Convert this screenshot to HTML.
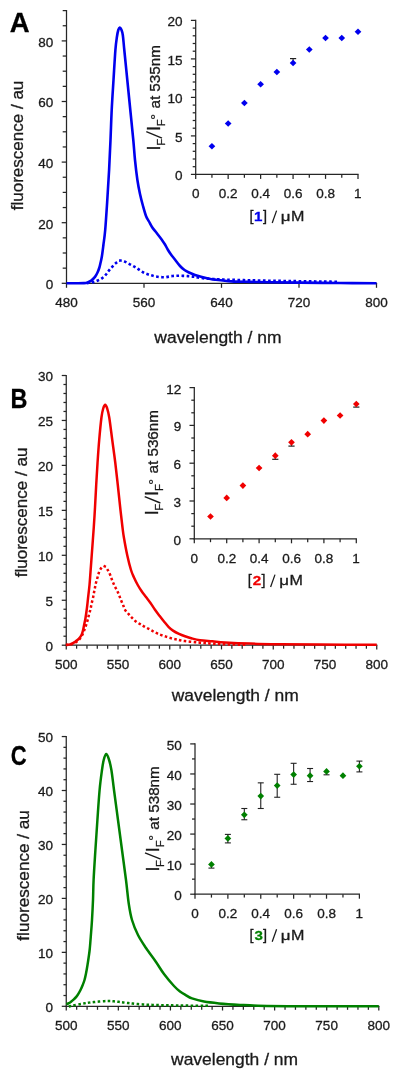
<!DOCTYPE html>
<html><head><meta charset="utf-8"><title>Fluorescence spectra</title>
<style>
html,body{margin:0;padding:0;background:#fff;}
body{width:400px;height:1080px;overflow:hidden;}
svg{display:block;filter:blur(0.3px);font-family:"Liberation Sans",sans-serif;font-kerning:none;}
text{stroke-width:0.3px;}
</style></head>
<body>
<svg width="400" height="1080" viewBox="0 0 400 1080">
<rect width="400" height="1080" fill="#fff"/>
<text transform="translate(9.72,31.85) scale(0.9854,1)" font-size="27.907" font-weight="bold" fill="#000" stroke="#000">A</text>
<line x1="66.5" y1="10" x2="66.5" y2="283.9" stroke="#262626" stroke-width="1.25"/>
<line x1="61.7" y1="283.3" x2="66.5" y2="283.3" stroke="#262626" stroke-width="1.25"/>
<text x="45.82" y="289.1" font-size="13.5" fill="#1a1a1a" stroke="#1a1a1a">0</text>
<line x1="62.7" y1="268.15" x2="66.5" y2="268.15" stroke="#262626" stroke-width="1.25"/>
<line x1="62.7" y1="253" x2="66.5" y2="253" stroke="#262626" stroke-width="1.25"/>
<line x1="62.7" y1="237.85" x2="66.5" y2="237.85" stroke="#262626" stroke-width="1.25"/>
<line x1="61.7" y1="222.7" x2="66.5" y2="222.7" stroke="#262626" stroke-width="1.25"/>
<text x="38.31" y="228.5" font-size="13.5" fill="#1a1a1a" stroke="#1a1a1a">20</text>
<line x1="62.7" y1="207.55" x2="66.5" y2="207.55" stroke="#262626" stroke-width="1.25"/>
<line x1="62.7" y1="192.4" x2="66.5" y2="192.4" stroke="#262626" stroke-width="1.25"/>
<line x1="62.7" y1="177.25" x2="66.5" y2="177.25" stroke="#262626" stroke-width="1.25"/>
<line x1="61.7" y1="162.1" x2="66.5" y2="162.1" stroke="#262626" stroke-width="1.25"/>
<text x="38.31" y="167.9" font-size="13.5" fill="#1a1a1a" stroke="#1a1a1a">40</text>
<line x1="62.7" y1="146.95" x2="66.5" y2="146.95" stroke="#262626" stroke-width="1.25"/>
<line x1="62.7" y1="131.8" x2="66.5" y2="131.8" stroke="#262626" stroke-width="1.25"/>
<line x1="62.7" y1="116.65" x2="66.5" y2="116.65" stroke="#262626" stroke-width="1.25"/>
<line x1="61.7" y1="101.5" x2="66.5" y2="101.5" stroke="#262626" stroke-width="1.25"/>
<text x="38.31" y="107.3" font-size="13.5" fill="#1a1a1a" stroke="#1a1a1a">60</text>
<line x1="62.7" y1="86.35" x2="66.5" y2="86.35" stroke="#262626" stroke-width="1.25"/>
<line x1="62.7" y1="71.2" x2="66.5" y2="71.2" stroke="#262626" stroke-width="1.25"/>
<line x1="62.7" y1="56.05" x2="66.5" y2="56.05" stroke="#262626" stroke-width="1.25"/>
<line x1="61.7" y1="40.9" x2="66.5" y2="40.9" stroke="#262626" stroke-width="1.25"/>
<text x="38.31" y="46.7" font-size="13.5" fill="#1a1a1a" stroke="#1a1a1a">80</text>
<line x1="62.7" y1="25.75" x2="66.5" y2="25.75" stroke="#262626" stroke-width="1.25"/>
<line x1="62.7" y1="10.6" x2="66.5" y2="10.6" stroke="#262626" stroke-width="1.25"/>
<line x1="65.9" y1="283.3" x2="377.1" y2="283.3" stroke="#262626" stroke-width="1.25"/>
<line x1="66.5" y1="283.3" x2="66.5" y2="287.8" stroke="#262626" stroke-width="1.25"/>
<text x="55.35" y="306.8" font-size="13.5" fill="#1a1a1a" stroke="#1a1a1a">480</text>
<line x1="144" y1="283.3" x2="144" y2="287.8" stroke="#262626" stroke-width="1.25"/>
<text x="132.73" y="306.8" font-size="13.5" fill="#1a1a1a" stroke="#1a1a1a">560</text>
<line x1="221.5" y1="283.3" x2="221.5" y2="287.8" stroke="#262626" stroke-width="1.25"/>
<text x="210.16" y="306.8" font-size="13.5" fill="#1a1a1a" stroke="#1a1a1a">640</text>
<line x1="299" y1="283.3" x2="299" y2="287.8" stroke="#262626" stroke-width="1.25"/>
<text x="287.66" y="306.8" font-size="13.5" fill="#1a1a1a" stroke="#1a1a1a">720</text>
<line x1="376.5" y1="283.3" x2="376.5" y2="287.8" stroke="#262626" stroke-width="1.25"/>
<text x="365.21" y="306.8" font-size="13.5" fill="#1a1a1a" stroke="#1a1a1a">800</text>
<text transform="translate(154.33,342.6) scale(1.0400,1)" font-size="16.800" fill="#1a1a1a" stroke="#1a1a1a">wavelength / nm</text>
<text transform="translate(23.4,210.24) rotate(-90) scale(1.0442,1)" font-size="16.300" fill="#1a1a1a" stroke="#1a1a1a">fluorescence / au</text>
<path d="M66.5,283.3 C68.42,283.3 75.08,283.33 78,283.3 C80.92,283.27 82.42,283.25 84,283.1 C85.58,282.95 86.29,282.82 87.5,282.4 C88.71,281.98 90,281.52 91.25,280.6 C92.5,279.68 93.96,278.25 95,276.9 C96.04,275.55 96.77,274.07 97.5,272.5 C98.23,270.93 98.88,269.17 99.4,267.5 C99.92,265.83 100.18,264.38 100.6,262.5 C101.02,260.62 101.43,259.17 101.9,256.25 C102.37,253.33 102.85,249.38 103.4,245 C103.95,240.62 104.55,237.5 105.2,230 C105.85,222.5 106.65,210 107.3,200 C107.95,190 108.57,180 109.1,170 C109.63,160 110.07,150 110.5,140 C110.93,130 111.2,120 111.7,110 C112.2,100 112.88,90 113.5,80 C114.12,70 114.83,57.17 115.4,50 C115.97,42.83 116.42,40.33 116.9,37 C117.38,33.67 117.82,31.58 118.3,30 C118.78,28.42 119.3,27.58 119.8,27.5 C120.3,27.42 120.8,28.25 121.3,29.5 C121.8,30.75 122.3,31.58 122.8,35 C123.3,38.42 123.55,42.5 124.3,50 C125.05,57.5 126.3,70 127.3,80 C128.3,90 129.3,100 130.3,110 C131.3,120 132.52,131.67 133.3,140 C134.08,148.33 134.32,153.33 135,160 C135.68,166.67 136.57,174.33 137.4,180 C138.23,185.67 139.07,189.67 140,194 C140.93,198.33 142,202.33 143,206 C144,209.67 145,213.42 146,216 C147,218.58 148,219.67 149,221.5 C150,223.33 150.92,225.33 152,227 C153.08,228.67 154.33,230 155.5,231.5 C156.67,233 157.92,234.58 159,236 C160.08,237.42 161,238.58 162,240 C163,241.42 164,242.83 165,244.5 C166,246.17 167,248.33 168,250 C169,251.67 169.92,253 171,254.5 C172.08,256 173,257.08 174.5,259 C176,260.92 178.33,264.17 180,266 C181.67,267.83 183,268.92 184.5,270 C186,271.08 187.25,271.67 189,272.5 C190.75,273.33 193,274.28 195,275 C197,275.72 199,276.27 201,276.8 C203,277.33 204.67,277.73 207,278.2 C209.33,278.67 210.92,279.07 215,279.6 C219.08,280.13 225.67,281.02 231.5,281.4 C237.33,281.78 243.58,281.77 250,281.9 C256.42,282.03 261.67,282.08 270,282.2 C278.33,282.32 288.33,282.47 300,282.6 C311.67,282.73 327.25,282.9 340,283 C352.75,283.1 370.42,283.17 376.5,283.2" fill="none" stroke="#0000ee" stroke-width="2.6" stroke-linejoin="round"/>
<path d="M88,283 C88.83,282.87 91.42,282.6 93,282.2 C94.58,281.8 96,281.25 97.5,280.6 C99,279.95 100.65,279.23 102,278.3 C103.35,277.37 104.47,276.25 105.6,275 C106.72,273.75 107.6,272.22 108.75,270.8 C109.9,269.38 111.25,267.83 112.5,266.5 C113.75,265.17 115,263.78 116.25,262.8 C117.5,261.82 118.62,260.82 120,260.6 C121.38,260.38 122.88,260.88 124.5,261.5 C126.12,262.12 128.17,263.47 129.75,264.3 C131.33,265.13 132.62,265.73 134,266.5 C135.38,267.27 136.58,267.98 138,268.9 C139.42,269.82 141,271.15 142.5,272 C144,272.85 145.58,273.47 147,274 C148.42,274.53 149.58,274.8 151,275.2 C152.42,275.6 153.92,276.08 155.5,276.4 C157.08,276.72 158.75,276.98 160.5,277.1 C162.25,277.22 164.22,277.25 166,277.1 C167.78,276.95 169.45,276.42 171.2,276.2 C172.95,275.98 174.7,275.87 176.5,275.8 C178.3,275.73 180.08,275.75 182,275.8 C183.92,275.85 186.17,275.97 188,276.1 C189.83,276.23 190.67,276.27 193,276.6 C195.33,276.93 197.5,277.63 202,278.1 C206.5,278.57 212,279.03 220,279.4 C228,279.77 240,280.05 250,280.3 C260,280.55 271.67,280.75 280,280.9 C288.33,281.05 293.33,281.1 300,281.2 C306.67,281.3 313.33,281.4 320,281.5 C326.67,281.6 336.67,281.75 340,281.8" fill="none" stroke="#0000ee" stroke-width="2.6" stroke-linejoin="round" stroke-dasharray="0.05 5.05" stroke-linecap="square"/>
<line x1="195.7" y1="19.8" x2="195.7" y2="175" stroke="#262626" stroke-width="1.25"/>
<line x1="190.9" y1="174.4" x2="195.7" y2="174.4" stroke="#262626" stroke-width="1.25"/>
<text x="174.92" y="180.3" font-size="13.5" fill="#1a1a1a" stroke="#1a1a1a">0</text>
<line x1="192.7" y1="166.7" x2="195.7" y2="166.7" stroke="#262626" stroke-width="1.25"/>
<line x1="192.7" y1="159" x2="195.7" y2="159" stroke="#262626" stroke-width="1.25"/>
<line x1="192.7" y1="151.3" x2="195.7" y2="151.3" stroke="#262626" stroke-width="1.25"/>
<line x1="192.7" y1="143.6" x2="195.7" y2="143.6" stroke="#262626" stroke-width="1.25"/>
<line x1="190.9" y1="135.9" x2="195.7" y2="135.9" stroke="#262626" stroke-width="1.25"/>
<text x="174.96" y="141.8" font-size="13.5" fill="#1a1a1a" stroke="#1a1a1a">5</text>
<line x1="192.7" y1="128.2" x2="195.7" y2="128.2" stroke="#262626" stroke-width="1.25"/>
<line x1="192.7" y1="120.5" x2="195.7" y2="120.5" stroke="#262626" stroke-width="1.25"/>
<line x1="192.7" y1="112.8" x2="195.7" y2="112.8" stroke="#262626" stroke-width="1.25"/>
<line x1="192.7" y1="105.1" x2="195.7" y2="105.1" stroke="#262626" stroke-width="1.25"/>
<line x1="190.9" y1="97.4" x2="195.7" y2="97.4" stroke="#262626" stroke-width="1.25"/>
<text x="167.41" y="103.3" font-size="13.5" fill="#1a1a1a" stroke="#1a1a1a">10</text>
<line x1="192.7" y1="89.7" x2="195.7" y2="89.7" stroke="#262626" stroke-width="1.25"/>
<line x1="192.7" y1="82" x2="195.7" y2="82" stroke="#262626" stroke-width="1.25"/>
<line x1="192.7" y1="74.3" x2="195.7" y2="74.3" stroke="#262626" stroke-width="1.25"/>
<line x1="192.7" y1="66.6" x2="195.7" y2="66.6" stroke="#262626" stroke-width="1.25"/>
<line x1="190.9" y1="58.9" x2="195.7" y2="58.9" stroke="#262626" stroke-width="1.25"/>
<text x="167.45" y="64.8" font-size="13.5" fill="#1a1a1a" stroke="#1a1a1a">15</text>
<line x1="192.7" y1="51.2" x2="195.7" y2="51.2" stroke="#262626" stroke-width="1.25"/>
<line x1="192.7" y1="43.5" x2="195.7" y2="43.5" stroke="#262626" stroke-width="1.25"/>
<line x1="192.7" y1="35.8" x2="195.7" y2="35.8" stroke="#262626" stroke-width="1.25"/>
<line x1="192.7" y1="28.1" x2="195.7" y2="28.1" stroke="#262626" stroke-width="1.25"/>
<line x1="190.9" y1="20.4" x2="195.7" y2="20.4" stroke="#262626" stroke-width="1.25"/>
<text x="167.41" y="26.3" font-size="13.5" fill="#1a1a1a" stroke="#1a1a1a">20</text>
<line x1="195.1" y1="174.4" x2="358.6" y2="174.4" stroke="#262626" stroke-width="1.25"/>
<line x1="195.7" y1="174.4" x2="195.7" y2="178.9" stroke="#262626" stroke-width="1.25"/>
<text x="191.95" y="198.4" font-size="13.5" fill="#1a1a1a" stroke="#1a1a1a">0</text>
<line x1="211.93" y1="174.4" x2="211.93" y2="177.8" stroke="#262626" stroke-width="1.25"/>
<line x1="228.16" y1="174.4" x2="228.16" y2="178.9" stroke="#262626" stroke-width="1.25"/>
<text x="218.85" y="198.4" font-size="13.5" fill="#1a1a1a" stroke="#1a1a1a">0.2</text>
<line x1="244.39" y1="174.4" x2="244.39" y2="177.8" stroke="#262626" stroke-width="1.25"/>
<line x1="260.62" y1="174.4" x2="260.62" y2="178.9" stroke="#262626" stroke-width="1.25"/>
<text x="251.17" y="198.4" font-size="13.5" fill="#1a1a1a" stroke="#1a1a1a">0.4</text>
<line x1="276.85" y1="174.4" x2="276.85" y2="177.8" stroke="#262626" stroke-width="1.25"/>
<line x1="293.08" y1="174.4" x2="293.08" y2="178.9" stroke="#262626" stroke-width="1.25"/>
<text x="283.73" y="198.4" font-size="13.5" fill="#1a1a1a" stroke="#1a1a1a">0.6</text>
<line x1="309.31" y1="174.4" x2="309.31" y2="177.8" stroke="#262626" stroke-width="1.25"/>
<line x1="325.54" y1="174.4" x2="325.54" y2="178.9" stroke="#262626" stroke-width="1.25"/>
<text x="316.19" y="198.4" font-size="13.5" fill="#1a1a1a" stroke="#1a1a1a">0.8</text>
<line x1="341.77" y1="174.4" x2="341.77" y2="177.8" stroke="#262626" stroke-width="1.25"/>
<line x1="358" y1="174.4" x2="358" y2="178.9" stroke="#262626" stroke-width="1.25"/>
<text x="354.06" y="198.4" font-size="13.5" fill="#1a1a1a" stroke="#1a1a1a">1</text>
<text transform="translate(159.9,150.44) rotate(-90) scale(1.0000,1)" font-size="17.6" fill="#1a1a1a" stroke="#1a1a1a">I</text>
<text transform="translate(164.9,145.81) rotate(-90) scale(1.0000,1)" font-size="11.2" fill="#1a1a1a" stroke="#1a1a1a">F</text>
<line x1="146.3" y1="131.7" x2="162" y2="138.1" stroke="#1a1a1a" stroke-width="1.35"/>
<text transform="translate(159.9,131.09) rotate(-90) scale(1.0000,1)" font-size="17.6" fill="#1a1a1a" stroke="#1a1a1a">I</text>
<text transform="translate(164.9,126.21) rotate(-90) scale(1.0000,1)" font-size="11.2" fill="#1a1a1a" stroke="#1a1a1a">F</text>
<text transform="translate(160.5,119.75) rotate(-90) scale(1.0000,1)" font-size="14.5" fill="#1a1a1a" stroke="#1a1a1a">°</text>
<text transform="translate(159.9,108.55) rotate(-90) scale(1.0622,1)" font-size="14.327" fill="#1a1a1a" stroke="#1a1a1a">at 535nm</text>
<text transform="translate(249.43,221) scale(1.0000,1)" font-size="14.5" fill="#1a1a1a" stroke="#1a1a1a">[</text>
<text transform="translate(254.03,221) scale(1.1200,1)" font-size="13.5" font-weight="bold" fill="#0000ee" stroke="#0000ee">1</text>
<text transform="translate(263.05,221) scale(1.0000,1)" font-size="14.5" fill="#1a1a1a" stroke="#1a1a1a">]</text>
<line x1="272.2" y1="223" x2="276.6" y2="210.6" stroke="#1a1a1a" stroke-width="1.25"/>
<text transform="translate(280.78,220.8) scale(1.2800,1)" font-size="13.2" fill="#1a1a1a" stroke="#1a1a1a">μ</text>
<text transform="translate(291.04,220.8) scale(1.1500,1)" font-size="14.0" fill="#1a1a1a" stroke="#1a1a1a">M</text>
<line x1="293.08" y1="58.6" x2="293.08" y2="63" stroke="#222" stroke-width="1.1"/>
<line x1="289.98" y1="58.6" x2="296.18" y2="58.6" stroke="#222" stroke-width="1.2"/>
<path d="M211.93,142.9 L215.28,146.25 L211.93,149.6 L208.58,146.25 Z" fill="#0000ee"/>
<path d="M228.16,120.15 L231.51,123.5 L228.16,126.85 L224.81,123.5 Z" fill="#0000ee"/>
<path d="M244.39,99.65 L247.74,103 L244.39,106.35 L241.04,103 Z" fill="#0000ee"/>
<path d="M260.62,80.9 L263.97,84.25 L260.62,87.6 L257.27,84.25 Z" fill="#0000ee"/>
<path d="M276.85,68.65 L280.2,72 L276.85,75.35 L273.5,72 Z" fill="#0000ee"/>
<path d="M293.08,59.65 L296.43,63 L293.08,66.35 L289.73,63 Z" fill="#0000ee"/>
<path d="M309.31,46.15 L312.66,49.5 L309.31,52.85 L305.96,49.5 Z" fill="#0000ee"/>
<path d="M325.54,34.65 L328.89,38 L325.54,41.35 L322.19,38 Z" fill="#0000ee"/>
<path d="M341.77,34.65 L345.12,38 L341.77,41.35 L338.42,38 Z" fill="#0000ee"/>
<path d="M358,28.4 L361.35,31.75 L358,35.1 L354.65,31.75 Z" fill="#0000ee"/>
<text transform="translate(10.53,408.25) scale(0.8535,1)" font-size="27.471" font-weight="bold" fill="#000" stroke="#000">B</text>
<line x1="66.25" y1="374.9" x2="66.25" y2="645.8" stroke="#262626" stroke-width="1.25"/>
<line x1="61.75" y1="645.2" x2="66.25" y2="645.2" stroke="#262626" stroke-width="1.25"/>
<text x="45.57" y="651" font-size="13.5" fill="#1a1a1a" stroke="#1a1a1a">0</text>
<line x1="63.45" y1="636.21" x2="66.25" y2="636.21" stroke="#262626" stroke-width="1.25"/>
<line x1="63.45" y1="627.22" x2="66.25" y2="627.22" stroke="#262626" stroke-width="1.25"/>
<line x1="63.45" y1="618.23" x2="66.25" y2="618.23" stroke="#262626" stroke-width="1.25"/>
<line x1="63.45" y1="609.24" x2="66.25" y2="609.24" stroke="#262626" stroke-width="1.25"/>
<line x1="61.75" y1="600.25" x2="66.25" y2="600.25" stroke="#262626" stroke-width="1.25"/>
<text x="45.61" y="606.05" font-size="13.5" fill="#1a1a1a" stroke="#1a1a1a">5</text>
<line x1="63.45" y1="591.26" x2="66.25" y2="591.26" stroke="#262626" stroke-width="1.25"/>
<line x1="63.45" y1="582.27" x2="66.25" y2="582.27" stroke="#262626" stroke-width="1.25"/>
<line x1="63.45" y1="573.28" x2="66.25" y2="573.28" stroke="#262626" stroke-width="1.25"/>
<line x1="63.45" y1="564.29" x2="66.25" y2="564.29" stroke="#262626" stroke-width="1.25"/>
<line x1="61.75" y1="555.3" x2="66.25" y2="555.3" stroke="#262626" stroke-width="1.25"/>
<text x="38.06" y="561.1" font-size="13.5" fill="#1a1a1a" stroke="#1a1a1a">10</text>
<line x1="63.45" y1="546.31" x2="66.25" y2="546.31" stroke="#262626" stroke-width="1.25"/>
<line x1="63.45" y1="537.32" x2="66.25" y2="537.32" stroke="#262626" stroke-width="1.25"/>
<line x1="63.45" y1="528.33" x2="66.25" y2="528.33" stroke="#262626" stroke-width="1.25"/>
<line x1="63.45" y1="519.34" x2="66.25" y2="519.34" stroke="#262626" stroke-width="1.25"/>
<line x1="61.75" y1="510.35" x2="66.25" y2="510.35" stroke="#262626" stroke-width="1.25"/>
<text x="38.1" y="516.15" font-size="13.5" fill="#1a1a1a" stroke="#1a1a1a">15</text>
<line x1="63.45" y1="501.36" x2="66.25" y2="501.36" stroke="#262626" stroke-width="1.25"/>
<line x1="63.45" y1="492.37" x2="66.25" y2="492.37" stroke="#262626" stroke-width="1.25"/>
<line x1="63.45" y1="483.38" x2="66.25" y2="483.38" stroke="#262626" stroke-width="1.25"/>
<line x1="63.45" y1="474.39" x2="66.25" y2="474.39" stroke="#262626" stroke-width="1.25"/>
<line x1="61.75" y1="465.4" x2="66.25" y2="465.4" stroke="#262626" stroke-width="1.25"/>
<text x="38.06" y="471.2" font-size="13.5" fill="#1a1a1a" stroke="#1a1a1a">20</text>
<line x1="63.45" y1="456.41" x2="66.25" y2="456.41" stroke="#262626" stroke-width="1.25"/>
<line x1="63.45" y1="447.42" x2="66.25" y2="447.42" stroke="#262626" stroke-width="1.25"/>
<line x1="63.45" y1="438.43" x2="66.25" y2="438.43" stroke="#262626" stroke-width="1.25"/>
<line x1="63.45" y1="429.44" x2="66.25" y2="429.44" stroke="#262626" stroke-width="1.25"/>
<line x1="61.75" y1="420.45" x2="66.25" y2="420.45" stroke="#262626" stroke-width="1.25"/>
<text x="38.1" y="426.25" font-size="13.5" fill="#1a1a1a" stroke="#1a1a1a">25</text>
<line x1="63.45" y1="411.46" x2="66.25" y2="411.46" stroke="#262626" stroke-width="1.25"/>
<line x1="63.45" y1="402.47" x2="66.25" y2="402.47" stroke="#262626" stroke-width="1.25"/>
<line x1="63.45" y1="393.48" x2="66.25" y2="393.48" stroke="#262626" stroke-width="1.25"/>
<line x1="63.45" y1="384.49" x2="66.25" y2="384.49" stroke="#262626" stroke-width="1.25"/>
<line x1="61.75" y1="375.5" x2="66.25" y2="375.5" stroke="#262626" stroke-width="1.25"/>
<text x="38.06" y="381.3" font-size="13.5" fill="#1a1a1a" stroke="#1a1a1a">30</text>
<line x1="65.65" y1="645.2" x2="377.35" y2="645.2" stroke="#262626" stroke-width="1.25"/>
<line x1="66.25" y1="645.2" x2="66.25" y2="649.4" stroke="#262626" stroke-width="1.25"/>
<text x="54.98" y="668.7" font-size="13.5" fill="#1a1a1a" stroke="#1a1a1a">500</text>
<line x1="76.6" y1="645.2" x2="76.6" y2="648.7" stroke="#262626" stroke-width="1.25"/>
<line x1="86.95" y1="645.2" x2="86.95" y2="648.7" stroke="#262626" stroke-width="1.25"/>
<line x1="97.3" y1="645.2" x2="97.3" y2="648.7" stroke="#262626" stroke-width="1.25"/>
<line x1="107.65" y1="645.2" x2="107.65" y2="648.7" stroke="#262626" stroke-width="1.25"/>
<line x1="118" y1="645.2" x2="118" y2="649.4" stroke="#262626" stroke-width="1.25"/>
<text x="106.73" y="668.7" font-size="13.5" fill="#1a1a1a" stroke="#1a1a1a">550</text>
<line x1="128.35" y1="645.2" x2="128.35" y2="648.7" stroke="#262626" stroke-width="1.25"/>
<line x1="138.7" y1="645.2" x2="138.7" y2="648.7" stroke="#262626" stroke-width="1.25"/>
<line x1="149.05" y1="645.2" x2="149.05" y2="648.7" stroke="#262626" stroke-width="1.25"/>
<line x1="159.4" y1="645.2" x2="159.4" y2="648.7" stroke="#262626" stroke-width="1.25"/>
<line x1="169.75" y1="645.2" x2="169.75" y2="649.4" stroke="#262626" stroke-width="1.25"/>
<text x="158.41" y="668.7" font-size="13.5" fill="#1a1a1a" stroke="#1a1a1a">600</text>
<line x1="180.1" y1="645.2" x2="180.1" y2="648.7" stroke="#262626" stroke-width="1.25"/>
<line x1="190.45" y1="645.2" x2="190.45" y2="648.7" stroke="#262626" stroke-width="1.25"/>
<line x1="200.8" y1="645.2" x2="200.8" y2="648.7" stroke="#262626" stroke-width="1.25"/>
<line x1="211.15" y1="645.2" x2="211.15" y2="648.7" stroke="#262626" stroke-width="1.25"/>
<line x1="221.5" y1="645.2" x2="221.5" y2="649.4" stroke="#262626" stroke-width="1.25"/>
<text x="210.16" y="668.7" font-size="13.5" fill="#1a1a1a" stroke="#1a1a1a">650</text>
<line x1="231.85" y1="645.2" x2="231.85" y2="648.7" stroke="#262626" stroke-width="1.25"/>
<line x1="242.2" y1="645.2" x2="242.2" y2="648.7" stroke="#262626" stroke-width="1.25"/>
<line x1="252.55" y1="645.2" x2="252.55" y2="648.7" stroke="#262626" stroke-width="1.25"/>
<line x1="262.9" y1="645.2" x2="262.9" y2="648.7" stroke="#262626" stroke-width="1.25"/>
<line x1="273.25" y1="645.2" x2="273.25" y2="649.4" stroke="#262626" stroke-width="1.25"/>
<text x="261.91" y="668.7" font-size="13.5" fill="#1a1a1a" stroke="#1a1a1a">700</text>
<line x1="283.6" y1="645.2" x2="283.6" y2="648.7" stroke="#262626" stroke-width="1.25"/>
<line x1="293.95" y1="645.2" x2="293.95" y2="648.7" stroke="#262626" stroke-width="1.25"/>
<line x1="304.3" y1="645.2" x2="304.3" y2="648.7" stroke="#262626" stroke-width="1.25"/>
<line x1="314.65" y1="645.2" x2="314.65" y2="648.7" stroke="#262626" stroke-width="1.25"/>
<line x1="325" y1="645.2" x2="325" y2="649.4" stroke="#262626" stroke-width="1.25"/>
<text x="313.66" y="668.7" font-size="13.5" fill="#1a1a1a" stroke="#1a1a1a">750</text>
<line x1="335.35" y1="645.2" x2="335.35" y2="648.7" stroke="#262626" stroke-width="1.25"/>
<line x1="345.7" y1="645.2" x2="345.7" y2="648.7" stroke="#262626" stroke-width="1.25"/>
<line x1="356.05" y1="645.2" x2="356.05" y2="648.7" stroke="#262626" stroke-width="1.25"/>
<line x1="366.4" y1="645.2" x2="366.4" y2="648.7" stroke="#262626" stroke-width="1.25"/>
<line x1="376.75" y1="645.2" x2="376.75" y2="649.4" stroke="#262626" stroke-width="1.25"/>
<text x="365.46" y="668.7" font-size="13.5" fill="#1a1a1a" stroke="#1a1a1a">800</text>
<text transform="translate(171.73,701.3) scale(1.0392,1)" font-size="16.800" fill="#1a1a1a" stroke="#1a1a1a">wavelength / nm</text>
<text transform="translate(27.45,577.24) rotate(-90) scale(1.0454,1)" font-size="16.300" fill="#1a1a1a" stroke="#1a1a1a">fluorescence / au</text>
<path d="M66.25,645.2 C66.88,645.07 68.96,644.72 70,644.4 C71.04,644.08 71.57,643.8 72.5,643.3 C73.43,642.8 74.48,642.22 75.6,641.4 C76.72,640.58 78.2,639.5 79.2,638.4 C80.2,637.3 80.95,636.2 81.6,634.8 C82.25,633.4 82.65,631.8 83.1,630 C83.55,628.2 83.9,626 84.3,624 C84.7,622 85.15,620 85.5,618 C85.85,616 86.1,614.17 86.4,612 C86.7,609.83 87.03,607.25 87.3,605 C87.57,602.75 87.63,601.83 88,598.5 C88.37,595.17 89.08,589.42 89.5,585 C89.92,580.58 90.12,577 90.5,572 C90.88,567 91.2,562.5 91.75,555 C92.3,547.5 93.26,534.92 93.8,527 C94.34,519.08 94.6,514.5 95,507.5 C95.4,500.5 95.78,492.5 96.2,485 C96.62,477.5 97.05,470 97.55,462.5 C98.05,455 98.55,447.5 99.2,440 C99.85,432.5 100.78,422.75 101.45,417.5 C102.12,412.25 102.58,410.62 103.2,408.5 C103.83,406.38 104.53,404.75 105.2,404.75 C105.87,404.75 106.53,406.38 107.2,408.5 C107.88,410.62 108.41,412.25 109.25,417.5 C110.09,422.75 111.25,432.5 112.25,440 C113.25,447.5 114.33,455 115.25,462.5 C116.17,470 116.97,477.5 117.8,485 C118.62,492.5 119.42,500.5 120.2,507.5 C120.98,514.5 121.83,522 122.45,527 C123.07,532 123.09,532.75 123.9,537.5 C124.71,542.25 126.12,550.08 127.3,555.5 C128.48,560.92 129.88,566.33 131,570 C132.12,573.67 132.88,575 134,577.5 C135.12,580 136.5,582.75 137.75,585 C139,587.25 140.12,589 141.5,591 C142.88,593 144.5,595 146,597 C147.5,599 149,600.88 150.5,603 C152,605.12 153.5,607.62 155,609.75 C156.5,611.88 158,613.79 159.5,615.75 C161,617.71 162.5,619.66 164,621.5 C165.5,623.34 167,625.28 168.5,626.8 C170,628.32 171.25,629.42 173,630.6 C174.75,631.78 177,632.95 179,633.9 C181,634.85 182.83,635.53 185,636.3 C187.17,637.07 189.5,637.85 192,638.5 C194.5,639.15 196.58,639.73 200,640.2 C203.42,640.67 208.33,640.93 212.5,641.3 C216.67,641.67 218.75,642.02 225,642.4 C231.25,642.78 240.83,643.3 250,643.6 C259.17,643.9 268.33,644.03 280,644.2 C291.67,644.37 303.88,644.5 320,644.6 C336.12,644.7 367.29,644.77 376.75,644.8" fill="none" stroke="#f00000" stroke-width="2.5" stroke-linejoin="round"/>
<path d="M67,644.7 C67.5,644.67 68.92,644.7 70,644.5 C71.08,644.3 72.33,644 73.5,643.5 C74.67,643 75.92,642.33 77,641.5 C78.08,640.67 79.08,639.67 80,638.5 C80.92,637.33 81.75,636 82.5,634.5 C83.25,633 83.87,631.17 84.5,629.5 C85.13,627.83 85.75,626.17 86.3,624.5 C86.85,622.83 87.35,621.17 87.8,619.5 C88.25,617.83 88.55,616.22 89,614.5 C89.45,612.78 90.08,610.95 90.5,609.2 C90.92,607.45 91.1,605.8 91.5,604 C91.9,602.2 92.51,600.17 92.9,598.4 C93.29,596.63 93.52,595.13 93.85,593.4 C94.18,591.67 94.56,589.72 94.9,588 C95.24,586.28 95.48,584.78 95.9,583.1 C96.32,581.42 96.9,579.65 97.4,577.9 C97.9,576.15 98.28,574.22 98.9,572.6 C99.52,570.98 100.37,569.25 101.1,568.2 C101.83,567.15 102.57,566.53 103.3,566.3 C104.03,566.07 104.67,566.03 105.5,566.8 C106.33,567.57 107.42,569.43 108.25,570.9 C109.08,572.37 109.83,574 110.5,575.6 C111.17,577.2 111.58,578.81 112.25,580.5 C112.92,582.19 113.66,584 114.5,585.75 C115.34,587.5 116.52,589.38 117.3,591 C118.08,592.62 118.54,593.88 119.2,595.5 C119.86,597.12 120.58,599.12 121.25,600.75 C121.92,602.38 122.58,603.8 123.2,605.3 C123.83,606.8 124.08,608.26 125,609.75 C125.92,611.24 127.5,612.83 128.75,614.25 C130,615.67 131.25,617.05 132.5,618.3 C133.75,619.55 134.88,620.72 136.25,621.75 C137.62,622.78 139.38,623.67 140.75,624.5 C142.12,625.33 143.12,625.95 144.5,626.7 C145.88,627.45 147.5,628.2 149,629 C150.5,629.8 152,630.71 153.5,631.5 C155,632.29 156.5,633.08 158,633.75 C159.5,634.42 160.88,634.92 162.5,635.5 C164.12,636.08 166,636.67 167.75,637.2 C169.5,637.73 171.25,638.28 173,638.7 C174.75,639.12 176.62,639.4 178.25,639.75 C179.88,640.1 179.46,640.34 182.75,640.8 C186.04,641.26 193.29,642.05 198,642.5 C202.71,642.95 206.5,643.2 211,643.5 C215.5,643.8 219.33,644.08 225,644.3 C230.67,644.52 241.67,644.72 245,644.8" fill="none" stroke="#f00000" stroke-width="2.5" stroke-linejoin="round" stroke-dasharray="0.05 4.85" stroke-linecap="square"/>
<line x1="194.3" y1="387" x2="194.3" y2="539.4" stroke="#262626" stroke-width="1.25"/>
<line x1="189.5" y1="538.8" x2="194.3" y2="538.8" stroke="#262626" stroke-width="1.25"/>
<text x="173.52" y="544.7" font-size="13.5" fill="#1a1a1a" stroke="#1a1a1a">0</text>
<line x1="191.3" y1="526.2" x2="194.3" y2="526.2" stroke="#262626" stroke-width="1.25"/>
<line x1="191.3" y1="513.6" x2="194.3" y2="513.6" stroke="#262626" stroke-width="1.25"/>
<line x1="189.5" y1="501" x2="194.3" y2="501" stroke="#262626" stroke-width="1.25"/>
<text x="173.59" y="506.9" font-size="13.5" fill="#1a1a1a" stroke="#1a1a1a">3</text>
<line x1="191.3" y1="488.4" x2="194.3" y2="488.4" stroke="#262626" stroke-width="1.25"/>
<line x1="191.3" y1="475.8" x2="194.3" y2="475.8" stroke="#262626" stroke-width="1.25"/>
<line x1="189.5" y1="463.2" x2="194.3" y2="463.2" stroke="#262626" stroke-width="1.25"/>
<text x="173.59" y="469.1" font-size="13.5" fill="#1a1a1a" stroke="#1a1a1a">6</text>
<line x1="191.3" y1="450.6" x2="194.3" y2="450.6" stroke="#262626" stroke-width="1.25"/>
<line x1="191.3" y1="438" x2="194.3" y2="438" stroke="#262626" stroke-width="1.25"/>
<line x1="189.5" y1="425.4" x2="194.3" y2="425.4" stroke="#262626" stroke-width="1.25"/>
<text x="173.63" y="431.3" font-size="13.5" fill="#1a1a1a" stroke="#1a1a1a">9</text>
<line x1="191.3" y1="412.8" x2="194.3" y2="412.8" stroke="#262626" stroke-width="1.25"/>
<line x1="191.3" y1="400.2" x2="194.3" y2="400.2" stroke="#262626" stroke-width="1.25"/>
<line x1="189.5" y1="387.6" x2="194.3" y2="387.6" stroke="#262626" stroke-width="1.25"/>
<text x="166.16" y="393.5" font-size="13.5" fill="#1a1a1a" stroke="#1a1a1a">12</text>
<line x1="193.7" y1="538.8" x2="356.9" y2="538.8" stroke="#262626" stroke-width="1.25"/>
<line x1="194.3" y1="538.8" x2="194.3" y2="543.3" stroke="#262626" stroke-width="1.25"/>
<text x="190.55" y="562.8" font-size="13.5" fill="#1a1a1a" stroke="#1a1a1a">0</text>
<line x1="210.5" y1="538.8" x2="210.5" y2="542.2" stroke="#262626" stroke-width="1.25"/>
<line x1="226.7" y1="538.8" x2="226.7" y2="543.3" stroke="#262626" stroke-width="1.25"/>
<text x="217.39" y="562.8" font-size="13.5" fill="#1a1a1a" stroke="#1a1a1a">0.2</text>
<line x1="242.9" y1="538.8" x2="242.9" y2="542.2" stroke="#262626" stroke-width="1.25"/>
<line x1="259.1" y1="538.8" x2="259.1" y2="543.3" stroke="#262626" stroke-width="1.25"/>
<text x="249.65" y="562.8" font-size="13.5" fill="#1a1a1a" stroke="#1a1a1a">0.4</text>
<line x1="275.3" y1="538.8" x2="275.3" y2="542.2" stroke="#262626" stroke-width="1.25"/>
<line x1="291.5" y1="538.8" x2="291.5" y2="543.3" stroke="#262626" stroke-width="1.25"/>
<text x="282.15" y="562.8" font-size="13.5" fill="#1a1a1a" stroke="#1a1a1a">0.6</text>
<line x1="307.7" y1="538.8" x2="307.7" y2="542.2" stroke="#262626" stroke-width="1.25"/>
<line x1="323.9" y1="538.8" x2="323.9" y2="543.3" stroke="#262626" stroke-width="1.25"/>
<text x="314.55" y="562.8" font-size="13.5" fill="#1a1a1a" stroke="#1a1a1a">0.8</text>
<line x1="340.1" y1="538.8" x2="340.1" y2="542.2" stroke="#262626" stroke-width="1.25"/>
<line x1="356.3" y1="538.8" x2="356.3" y2="543.3" stroke="#262626" stroke-width="1.25"/>
<text x="352.36" y="562.8" font-size="13.5" fill="#1a1a1a" stroke="#1a1a1a">1</text>
<text transform="translate(158.3,515.34) rotate(-90) scale(1.0000,1)" font-size="17.6" fill="#1a1a1a" stroke="#1a1a1a">I</text>
<text transform="translate(163.3,510.71) rotate(-90) scale(1.0000,1)" font-size="11.2" fill="#1a1a1a" stroke="#1a1a1a">F</text>
<line x1="144.7" y1="496.6" x2="160.4" y2="503" stroke="#1a1a1a" stroke-width="1.35"/>
<text transform="translate(158.3,495.99) rotate(-90) scale(1.0000,1)" font-size="17.6" fill="#1a1a1a" stroke="#1a1a1a">I</text>
<text transform="translate(163.3,491.11) rotate(-90) scale(1.0000,1)" font-size="11.2" fill="#1a1a1a" stroke="#1a1a1a">F</text>
<text transform="translate(158.9,484.65) rotate(-90) scale(1.0000,1)" font-size="14.5" fill="#1a1a1a" stroke="#1a1a1a">°</text>
<text transform="translate(158.3,473.45) rotate(-90) scale(1.0622,1)" font-size="14.327" fill="#1a1a1a" stroke="#1a1a1a">at 536nm</text>
<text transform="translate(247.83,585) scale(1.0000,1)" font-size="14.5" fill="#1a1a1a" stroke="#1a1a1a">[</text>
<text transform="translate(252.74,585) scale(1.1200,1)" font-size="13.5" font-weight="bold" fill="#f00000" stroke="#f00000">2</text>
<text transform="translate(261.45,585) scale(1.0000,1)" font-size="14.5" fill="#1a1a1a" stroke="#1a1a1a">]</text>
<line x1="270.6" y1="587" x2="275" y2="574.6" stroke="#1a1a1a" stroke-width="1.25"/>
<text transform="translate(279.18,584.8) scale(1.2800,1)" font-size="13.2" fill="#1a1a1a" stroke="#1a1a1a">μ</text>
<text transform="translate(289.44,584.8) scale(1.1500,1)" font-size="14.0" fill="#1a1a1a" stroke="#1a1a1a">M</text>
<line x1="275.3" y1="455.7" x2="275.3" y2="459.3" stroke="#222" stroke-width="1.1"/>
<line x1="272.2" y1="459.3" x2="278.4" y2="459.3" stroke="#222" stroke-width="1.2"/>
<line x1="291.5" y1="442.3" x2="291.5" y2="446.1" stroke="#222" stroke-width="1.1"/>
<line x1="288.4" y1="446.1" x2="294.6" y2="446.1" stroke="#222" stroke-width="1.2"/>
<line x1="356.3" y1="404" x2="356.3" y2="407.1" stroke="#222" stroke-width="1.1"/>
<line x1="353.2" y1="407.1" x2="359.4" y2="407.1" stroke="#222" stroke-width="1.2"/>
<path d="M210.5,513.15 L213.85,516.5 L210.5,519.85 L207.15,516.5 Z" fill="#f00000"/>
<path d="M226.7,494.55 L230.05,497.9 L226.7,501.25 L223.35,497.9 Z" fill="#f00000"/>
<path d="M242.9,482.25 L246.25,485.6 L242.9,488.95 L239.55,485.6 Z" fill="#f00000"/>
<path d="M259.1,464.65 L262.45,468 L259.1,471.35 L255.75,468 Z" fill="#f00000"/>
<path d="M275.3,452.35 L278.65,455.7 L275.3,459.05 L271.95,455.7 Z" fill="#f00000"/>
<path d="M291.5,438.95 L294.85,442.3 L291.5,445.65 L288.15,442.3 Z" fill="#f00000"/>
<path d="M307.7,430.85 L311.05,434.2 L307.7,437.55 L304.35,434.2 Z" fill="#f00000"/>
<path d="M323.9,417.25 L327.25,420.6 L323.9,423.95 L320.55,420.6 Z" fill="#f00000"/>
<path d="M340.1,412.15 L343.45,415.5 L340.1,418.85 L336.75,415.5 Z" fill="#f00000"/>
<path d="M356.3,400.65 L359.65,404 L356.3,407.35 L352.95,404 Z" fill="#f00000"/>
<text transform="translate(10.7,764.75) scale(0.7747,1)" font-size="28.429" font-weight="bold" fill="#000" stroke="#000">C</text>
<line x1="66.25" y1="735.95" x2="66.25" y2="1006.9" stroke="#262626" stroke-width="1.25"/>
<line x1="61.75" y1="1006.3" x2="66.25" y2="1006.3" stroke="#262626" stroke-width="1.25"/>
<text x="45.57" y="1012.1" font-size="13.5" fill="#1a1a1a" stroke="#1a1a1a">0</text>
<line x1="63.45" y1="995.51" x2="66.25" y2="995.51" stroke="#262626" stroke-width="1.25"/>
<line x1="63.45" y1="984.72" x2="66.25" y2="984.72" stroke="#262626" stroke-width="1.25"/>
<line x1="63.45" y1="973.93" x2="66.25" y2="973.93" stroke="#262626" stroke-width="1.25"/>
<line x1="63.45" y1="963.14" x2="66.25" y2="963.14" stroke="#262626" stroke-width="1.25"/>
<line x1="61.75" y1="952.35" x2="66.25" y2="952.35" stroke="#262626" stroke-width="1.25"/>
<text x="38.06" y="958.15" font-size="13.5" fill="#1a1a1a" stroke="#1a1a1a">10</text>
<line x1="63.45" y1="941.56" x2="66.25" y2="941.56" stroke="#262626" stroke-width="1.25"/>
<line x1="63.45" y1="930.77" x2="66.25" y2="930.77" stroke="#262626" stroke-width="1.25"/>
<line x1="63.45" y1="919.98" x2="66.25" y2="919.98" stroke="#262626" stroke-width="1.25"/>
<line x1="63.45" y1="909.19" x2="66.25" y2="909.19" stroke="#262626" stroke-width="1.25"/>
<line x1="61.75" y1="898.4" x2="66.25" y2="898.4" stroke="#262626" stroke-width="1.25"/>
<text x="38.06" y="904.2" font-size="13.5" fill="#1a1a1a" stroke="#1a1a1a">20</text>
<line x1="63.45" y1="887.61" x2="66.25" y2="887.61" stroke="#262626" stroke-width="1.25"/>
<line x1="63.45" y1="876.82" x2="66.25" y2="876.82" stroke="#262626" stroke-width="1.25"/>
<line x1="63.45" y1="866.03" x2="66.25" y2="866.03" stroke="#262626" stroke-width="1.25"/>
<line x1="63.45" y1="855.24" x2="66.25" y2="855.24" stroke="#262626" stroke-width="1.25"/>
<line x1="61.75" y1="844.45" x2="66.25" y2="844.45" stroke="#262626" stroke-width="1.25"/>
<text x="38.06" y="850.25" font-size="13.5" fill="#1a1a1a" stroke="#1a1a1a">30</text>
<line x1="63.45" y1="833.66" x2="66.25" y2="833.66" stroke="#262626" stroke-width="1.25"/>
<line x1="63.45" y1="822.87" x2="66.25" y2="822.87" stroke="#262626" stroke-width="1.25"/>
<line x1="63.45" y1="812.08" x2="66.25" y2="812.08" stroke="#262626" stroke-width="1.25"/>
<line x1="63.45" y1="801.29" x2="66.25" y2="801.29" stroke="#262626" stroke-width="1.25"/>
<line x1="61.75" y1="790.5" x2="66.25" y2="790.5" stroke="#262626" stroke-width="1.25"/>
<text x="38.06" y="796.3" font-size="13.5" fill="#1a1a1a" stroke="#1a1a1a">40</text>
<line x1="63.45" y1="779.71" x2="66.25" y2="779.71" stroke="#262626" stroke-width="1.25"/>
<line x1="63.45" y1="768.92" x2="66.25" y2="768.92" stroke="#262626" stroke-width="1.25"/>
<line x1="63.45" y1="758.13" x2="66.25" y2="758.13" stroke="#262626" stroke-width="1.25"/>
<line x1="63.45" y1="747.34" x2="66.25" y2="747.34" stroke="#262626" stroke-width="1.25"/>
<line x1="61.75" y1="736.55" x2="66.25" y2="736.55" stroke="#262626" stroke-width="1.25"/>
<text x="38.06" y="742.35" font-size="13.5" fill="#1a1a1a" stroke="#1a1a1a">50</text>
<line x1="65.65" y1="1006.3" x2="379.4" y2="1006.3" stroke="#262626" stroke-width="1.25"/>
<line x1="66.25" y1="1006.3" x2="66.25" y2="1010.5" stroke="#262626" stroke-width="1.25"/>
<text x="54.98" y="1029.8" font-size="13.5" fill="#1a1a1a" stroke="#1a1a1a">500</text>
<line x1="76.67" y1="1006.3" x2="76.67" y2="1009.8" stroke="#262626" stroke-width="1.25"/>
<line x1="87.09" y1="1006.3" x2="87.09" y2="1009.8" stroke="#262626" stroke-width="1.25"/>
<line x1="97.5" y1="1006.3" x2="97.5" y2="1009.8" stroke="#262626" stroke-width="1.25"/>
<line x1="107.92" y1="1006.3" x2="107.92" y2="1009.8" stroke="#262626" stroke-width="1.25"/>
<line x1="118.34" y1="1006.3" x2="118.34" y2="1010.5" stroke="#262626" stroke-width="1.25"/>
<text x="107.07" y="1029.8" font-size="13.5" fill="#1a1a1a" stroke="#1a1a1a">550</text>
<line x1="128.76" y1="1006.3" x2="128.76" y2="1009.8" stroke="#262626" stroke-width="1.25"/>
<line x1="139.18" y1="1006.3" x2="139.18" y2="1009.8" stroke="#262626" stroke-width="1.25"/>
<line x1="149.6" y1="1006.3" x2="149.6" y2="1009.8" stroke="#262626" stroke-width="1.25"/>
<line x1="160.01" y1="1006.3" x2="160.01" y2="1009.8" stroke="#262626" stroke-width="1.25"/>
<line x1="170.43" y1="1006.3" x2="170.43" y2="1010.5" stroke="#262626" stroke-width="1.25"/>
<text x="159.09" y="1029.8" font-size="13.5" fill="#1a1a1a" stroke="#1a1a1a">600</text>
<line x1="180.85" y1="1006.3" x2="180.85" y2="1009.8" stroke="#262626" stroke-width="1.25"/>
<line x1="191.27" y1="1006.3" x2="191.27" y2="1009.8" stroke="#262626" stroke-width="1.25"/>
<line x1="201.69" y1="1006.3" x2="201.69" y2="1009.8" stroke="#262626" stroke-width="1.25"/>
<line x1="212.11" y1="1006.3" x2="212.11" y2="1009.8" stroke="#262626" stroke-width="1.25"/>
<line x1="222.53" y1="1006.3" x2="222.53" y2="1010.5" stroke="#262626" stroke-width="1.25"/>
<text x="211.18" y="1029.8" font-size="13.5" fill="#1a1a1a" stroke="#1a1a1a">650</text>
<line x1="232.94" y1="1006.3" x2="232.94" y2="1009.8" stroke="#262626" stroke-width="1.25"/>
<line x1="243.36" y1="1006.3" x2="243.36" y2="1009.8" stroke="#262626" stroke-width="1.25"/>
<line x1="253.78" y1="1006.3" x2="253.78" y2="1009.8" stroke="#262626" stroke-width="1.25"/>
<line x1="264.2" y1="1006.3" x2="264.2" y2="1009.8" stroke="#262626" stroke-width="1.25"/>
<line x1="274.62" y1="1006.3" x2="274.62" y2="1010.5" stroke="#262626" stroke-width="1.25"/>
<text x="263.27" y="1029.8" font-size="13.5" fill="#1a1a1a" stroke="#1a1a1a">700</text>
<line x1="285.04" y1="1006.3" x2="285.04" y2="1009.8" stroke="#262626" stroke-width="1.25"/>
<line x1="295.45" y1="1006.3" x2="295.45" y2="1009.8" stroke="#262626" stroke-width="1.25"/>
<line x1="305.87" y1="1006.3" x2="305.87" y2="1009.8" stroke="#262626" stroke-width="1.25"/>
<line x1="316.29" y1="1006.3" x2="316.29" y2="1009.8" stroke="#262626" stroke-width="1.25"/>
<line x1="326.71" y1="1006.3" x2="326.71" y2="1010.5" stroke="#262626" stroke-width="1.25"/>
<text x="315.36" y="1029.8" font-size="13.5" fill="#1a1a1a" stroke="#1a1a1a">750</text>
<line x1="337.13" y1="1006.3" x2="337.13" y2="1009.8" stroke="#262626" stroke-width="1.25"/>
<line x1="347.55" y1="1006.3" x2="347.55" y2="1009.8" stroke="#262626" stroke-width="1.25"/>
<line x1="357.96" y1="1006.3" x2="357.96" y2="1009.8" stroke="#262626" stroke-width="1.25"/>
<line x1="368.38" y1="1006.3" x2="368.38" y2="1009.8" stroke="#262626" stroke-width="1.25"/>
<line x1="378.8" y1="1006.3" x2="378.8" y2="1010.5" stroke="#262626" stroke-width="1.25"/>
<text x="367.51" y="1029.8" font-size="13.5" fill="#1a1a1a" stroke="#1a1a1a">800</text>
<text transform="translate(171.03,1064.6) scale(1.0383,1)" font-size="16.800" fill="#1a1a1a" stroke="#1a1a1a">wavelength / nm</text>
<text transform="translate(28.55,940.64) rotate(-90) scale(1.0515,1)" font-size="16.300" fill="#1a1a1a" stroke="#1a1a1a">fluorescence / au</text>
<path d="M66.25,1004.2 C66.71,1004.03 68.21,1003.6 69,1003.2 C69.79,1002.8 70.25,1002.38 71,1001.8 C71.75,1001.22 72.62,1000.52 73.5,999.7 C74.38,998.88 75.42,997.92 76.25,996.9 C77.08,995.88 77.75,994.83 78.5,993.6 C79.25,992.37 80.05,990.93 80.75,989.5 C81.45,988.07 82.08,986.58 82.7,985 C83.33,983.42 83.95,981.92 84.5,980 C85.05,978.08 85.5,976 86,973.5 C86.5,971 87.05,967.75 87.5,965 C87.95,962.25 88.33,959.67 88.7,957 C89.08,954.33 89.38,952.67 89.75,949 C90.12,945.33 90.53,939.83 90.9,935 C91.28,930.17 91.65,925.83 92,920 C92.35,914.17 92.73,906.67 93,900 C93.27,893.33 93.2,888.33 93.6,880 C94,871.67 94.77,860 95.4,850 C96.03,840 96.7,830 97.4,820 C98.1,810 98.83,798.33 99.6,790 C100.37,781.67 101.32,775 102,770 C102.68,765 103,762.67 103.7,760 C104.4,757.33 105.35,754.17 106.2,754 C107.05,753.83 107.93,756.33 108.8,759 C109.67,761.67 110.53,764.83 111.4,770 C112.27,775.17 112.9,781.67 114,790 C115.1,798.33 116.67,810 118,820 C119.33,830 120.67,840 122,850 C123.33,860 124.87,871 126,880 C127.13,889 127.8,897.33 128.8,904 C129.8,910.67 130.47,914.83 132,920 C133.53,925.17 135.67,930.33 138,935 C140.33,939.67 143,943.5 146,948 C149,952.5 153,957.67 156,962 C159,966.33 161,970 164,974 C167,978 171.33,983.08 174,986 C176.67,988.92 178,989.95 180,991.5 C182,993.05 184,994.15 186,995.3 C188,996.45 189,997.35 192,998.4 C195,999.45 199.5,1000.77 204,1001.6 C208.5,1002.43 213,1002.85 219,1003.4 C225,1003.95 233.5,1004.52 240,1004.9 C246.5,1005.28 248,1005.48 258,1005.7 C268,1005.92 279.87,1006.1 300,1006.2 C320.13,1006.3 365.67,1006.28 378.8,1006.3" fill="none" stroke="#008000" stroke-width="2.5" stroke-linejoin="round"/>
<path d="M70,1006.2 C70.42,1006.1 70.42,1006.02 72.5,1005.6 C74.58,1005.18 79.17,1004.27 82.5,1003.7 C85.83,1003.13 88.33,1002.65 92.5,1002.2 C96.67,1001.75 103.33,1001.08 107.5,1001 C111.67,1000.92 114.17,1001.37 117.5,1001.7 C120.83,1002.03 123.75,1002.58 127.5,1003 C131.25,1003.42 135.42,1003.87 140,1004.2 C144.58,1004.53 148.33,1004.78 155,1005 C161.67,1005.22 170.83,1005.35 180,1005.5 C189.17,1005.65 205,1005.83 210,1005.9" fill="none" stroke="#008000" stroke-width="2.5" stroke-linejoin="round" stroke-dasharray="0.05 4.85" stroke-linecap="square"/>
<line x1="195" y1="743.3" x2="195" y2="894.8" stroke="#262626" stroke-width="1.25"/>
<line x1="190.2" y1="894.2" x2="195" y2="894.2" stroke="#262626" stroke-width="1.25"/>
<text x="174.22" y="900.1" font-size="13.5" fill="#1a1a1a" stroke="#1a1a1a">0</text>
<line x1="192" y1="879.17" x2="195" y2="879.17" stroke="#262626" stroke-width="1.25"/>
<line x1="190.2" y1="864.14" x2="195" y2="864.14" stroke="#262626" stroke-width="1.25"/>
<text x="166.71" y="870.04" font-size="13.5" fill="#1a1a1a" stroke="#1a1a1a">10</text>
<line x1="192" y1="849.11" x2="195" y2="849.11" stroke="#262626" stroke-width="1.25"/>
<line x1="190.2" y1="834.08" x2="195" y2="834.08" stroke="#262626" stroke-width="1.25"/>
<text x="166.71" y="839.98" font-size="13.5" fill="#1a1a1a" stroke="#1a1a1a">20</text>
<line x1="192" y1="819.05" x2="195" y2="819.05" stroke="#262626" stroke-width="1.25"/>
<line x1="190.2" y1="804.02" x2="195" y2="804.02" stroke="#262626" stroke-width="1.25"/>
<text x="166.71" y="809.92" font-size="13.5" fill="#1a1a1a" stroke="#1a1a1a">30</text>
<line x1="192" y1="788.99" x2="195" y2="788.99" stroke="#262626" stroke-width="1.25"/>
<line x1="190.2" y1="773.96" x2="195" y2="773.96" stroke="#262626" stroke-width="1.25"/>
<text x="166.71" y="779.86" font-size="13.5" fill="#1a1a1a" stroke="#1a1a1a">40</text>
<line x1="192" y1="758.93" x2="195" y2="758.93" stroke="#262626" stroke-width="1.25"/>
<line x1="190.2" y1="743.9" x2="195" y2="743.9" stroke="#262626" stroke-width="1.25"/>
<text x="166.71" y="749.8" font-size="13.5" fill="#1a1a1a" stroke="#1a1a1a">50</text>
<line x1="194.4" y1="894.2" x2="360" y2="894.2" stroke="#262626" stroke-width="1.25"/>
<line x1="195" y1="894.2" x2="195" y2="898.7" stroke="#262626" stroke-width="1.25"/>
<text x="191.25" y="918.2" font-size="13.5" fill="#1a1a1a" stroke="#1a1a1a">0</text>
<line x1="211.44" y1="894.2" x2="211.44" y2="897.6" stroke="#262626" stroke-width="1.25"/>
<line x1="227.88" y1="894.2" x2="227.88" y2="898.7" stroke="#262626" stroke-width="1.25"/>
<text x="218.57" y="918.2" font-size="13.5" fill="#1a1a1a" stroke="#1a1a1a">0.2</text>
<line x1="244.32" y1="894.2" x2="244.32" y2="897.6" stroke="#262626" stroke-width="1.25"/>
<line x1="260.76" y1="894.2" x2="260.76" y2="898.7" stroke="#262626" stroke-width="1.25"/>
<text x="251.31" y="918.2" font-size="13.5" fill="#1a1a1a" stroke="#1a1a1a">0.4</text>
<line x1="277.2" y1="894.2" x2="277.2" y2="897.6" stroke="#262626" stroke-width="1.25"/>
<line x1="293.64" y1="894.2" x2="293.64" y2="898.7" stroke="#262626" stroke-width="1.25"/>
<text x="284.29" y="918.2" font-size="13.5" fill="#1a1a1a" stroke="#1a1a1a">0.6</text>
<line x1="310.08" y1="894.2" x2="310.08" y2="897.6" stroke="#262626" stroke-width="1.25"/>
<line x1="326.52" y1="894.2" x2="326.52" y2="898.7" stroke="#262626" stroke-width="1.25"/>
<text x="317.17" y="918.2" font-size="13.5" fill="#1a1a1a" stroke="#1a1a1a">0.8</text>
<line x1="342.96" y1="894.2" x2="342.96" y2="897.6" stroke="#262626" stroke-width="1.25"/>
<line x1="359.4" y1="894.2" x2="359.4" y2="898.7" stroke="#262626" stroke-width="1.25"/>
<text x="355.46" y="918.2" font-size="13.5" fill="#1a1a1a" stroke="#1a1a1a">1</text>
<text transform="translate(158.6,871.54) rotate(-90) scale(1.0000,1)" font-size="17.6" fill="#1a1a1a" stroke="#1a1a1a">I</text>
<text transform="translate(163.6,866.91) rotate(-90) scale(1.0000,1)" font-size="11.2" fill="#1a1a1a" stroke="#1a1a1a">F</text>
<line x1="145" y1="852.8" x2="160.7" y2="859.2" stroke="#1a1a1a" stroke-width="1.35"/>
<text transform="translate(158.6,852.19) rotate(-90) scale(1.0000,1)" font-size="17.6" fill="#1a1a1a" stroke="#1a1a1a">I</text>
<text transform="translate(163.6,847.31) rotate(-90) scale(1.0000,1)" font-size="11.2" fill="#1a1a1a" stroke="#1a1a1a">F</text>
<text transform="translate(159.2,840.85) rotate(-90) scale(1.0000,1)" font-size="14.5" fill="#1a1a1a" stroke="#1a1a1a">°</text>
<text transform="translate(158.6,829.65) rotate(-90) scale(1.0622,1)" font-size="14.327" fill="#1a1a1a" stroke="#1a1a1a">at 538nm</text>
<text transform="translate(249.43,939.7) scale(1.0000,1)" font-size="14.5" fill="#1a1a1a" stroke="#1a1a1a">[</text>
<text transform="translate(254.4,939.7) scale(1.1200,1)" font-size="13.5" font-weight="bold" fill="#008000" stroke="#008000">3</text>
<text transform="translate(263.05,939.7) scale(1.0000,1)" font-size="14.5" fill="#1a1a1a" stroke="#1a1a1a">]</text>
<line x1="272.2" y1="941.7" x2="276.6" y2="929.3" stroke="#1a1a1a" stroke-width="1.25"/>
<text transform="translate(280.78,939.5) scale(1.2800,1)" font-size="13.2" fill="#1a1a1a" stroke="#1a1a1a">μ</text>
<text transform="translate(291.04,939.5) scale(1.1500,1)" font-size="14.0" fill="#1a1a1a" stroke="#1a1a1a">M</text>
<line x1="211.44" y1="864.4" x2="211.44" y2="868.1" stroke="#222" stroke-width="1.1"/>
<line x1="208.44" y1="868.1" x2="214.44" y2="868.1" stroke="#222" stroke-width="1.1"/>
<line x1="227.88" y1="834.4" x2="227.88" y2="842.9" stroke="#222" stroke-width="1.1"/>
<line x1="224.88" y1="834.4" x2="230.88" y2="834.4" stroke="#222" stroke-width="1.1"/>
<line x1="224.88" y1="842.9" x2="230.88" y2="842.9" stroke="#222" stroke-width="1.1"/>
<line x1="244.32" y1="808.5" x2="244.32" y2="819.75" stroke="#222" stroke-width="1.1"/>
<line x1="241.32" y1="808.5" x2="247.32" y2="808.5" stroke="#222" stroke-width="1.1"/>
<line x1="241.32" y1="819.75" x2="247.32" y2="819.75" stroke="#222" stroke-width="1.1"/>
<line x1="260.76" y1="782.85" x2="260.76" y2="808.5" stroke="#222" stroke-width="1.1"/>
<line x1="257.76" y1="782.85" x2="263.76" y2="782.85" stroke="#222" stroke-width="1.1"/>
<line x1="257.76" y1="808.5" x2="263.76" y2="808.5" stroke="#222" stroke-width="1.1"/>
<line x1="277.2" y1="774.3" x2="277.2" y2="797.25" stroke="#222" stroke-width="1.1"/>
<line x1="274.2" y1="774.3" x2="280.2" y2="774.3" stroke="#222" stroke-width="1.1"/>
<line x1="274.2" y1="797.25" x2="280.2" y2="797.25" stroke="#222" stroke-width="1.1"/>
<line x1="293.64" y1="763.3" x2="293.64" y2="784.25" stroke="#222" stroke-width="1.1"/>
<line x1="290.64" y1="763.3" x2="296.64" y2="763.3" stroke="#222" stroke-width="1.1"/>
<line x1="290.64" y1="784.25" x2="296.64" y2="784.25" stroke="#222" stroke-width="1.1"/>
<line x1="310.08" y1="768.5" x2="310.08" y2="781.55" stroke="#222" stroke-width="1.1"/>
<line x1="307.08" y1="768.5" x2="313.08" y2="768.5" stroke="#222" stroke-width="1.1"/>
<line x1="307.08" y1="781.55" x2="313.08" y2="781.55" stroke="#222" stroke-width="1.1"/>
<line x1="326.52" y1="771.4" x2="326.52" y2="774.8" stroke="#222" stroke-width="1.1"/>
<line x1="323.52" y1="774.8" x2="329.52" y2="774.8" stroke="#222" stroke-width="1.1"/>
<line x1="359.4" y1="761.1" x2="359.4" y2="771.9" stroke="#222" stroke-width="1.1"/>
<line x1="356.4" y1="761.1" x2="362.4" y2="761.1" stroke="#222" stroke-width="1.1"/>
<line x1="356.4" y1="771.9" x2="362.4" y2="771.9" stroke="#222" stroke-width="1.1"/>
<path d="M211.44,861.05 L214.79,864.4 L211.44,867.75 L208.09,864.4 Z" fill="#008000"/>
<path d="M227.88,835.05 L231.23,838.4 L227.88,841.75 L224.53,838.4 Z" fill="#008000"/>
<path d="M244.32,811.45 L247.67,814.8 L244.32,818.15 L240.97,814.8 Z" fill="#008000"/>
<path d="M260.76,792.75 L264.11,796.1 L260.76,799.45 L257.41,796.1 Z" fill="#008000"/>
<path d="M277.2,782.2 L280.55,785.55 L277.2,788.9 L273.85,785.55 Z" fill="#008000"/>
<path d="M293.64,771.25 L296.99,774.6 L293.64,777.95 L290.29,774.6 Z" fill="#008000"/>
<path d="M310.08,772.35 L313.43,775.7 L310.08,779.05 L306.73,775.7 Z" fill="#008000"/>
<path d="M326.52,768.05 L329.87,771.4 L326.52,774.75 L323.17,771.4 Z" fill="#008000"/>
<path d="M342.96,772.35 L346.31,775.7 L342.96,779.05 L339.61,775.7 Z" fill="#008000"/>
<path d="M359.4,762.9 L362.75,766.25 L359.4,769.6 L356.05,766.25 Z" fill="#008000"/>
</svg>
</body></html>
